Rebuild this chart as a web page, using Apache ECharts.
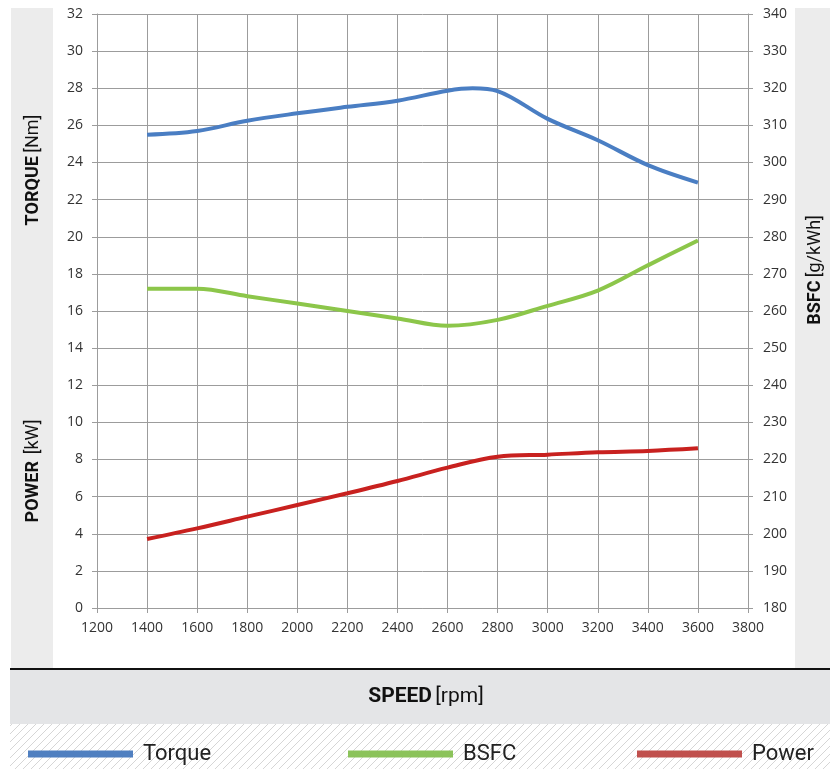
<!DOCTYPE html>
<html>
<head>
<meta charset="utf-8">
<script src="https://cdn.jsdelivr.net/npm/echarts@6/dist/echarts.min.js"></script>
<style>
    html, body { margin: 0; padding: 0; background: #fff; }
    #chart { width: 830px; height: 769px; }
</style>
</head>
<body>
<div id="chart"></div>
<script>
    // data
    const rpm = [1400, 1600, 1800, 2000, 2200, 2400, 2600, 2800, 3000, 3200, 3400, 3600];
    const torqueRpm = [1400, 1600, 1800, 2000, 2200, 2400, 2600, 2700, 2800, 3000, 3200, 3400, 3600];
    const torque = [25.5, 25.7, 26.25, 26.65, 27.0, 27.33, 27.87, 28.0, 27.85, 26.35, 25.2, 23.86, 22.92];
    const bsfc = [266, 266, 264, 262, 260, 258, 256, 257.6, 261.4, 265.5, 272.3, 279];
    const power = [3.72, 4.29, 4.92, 5.55, 6.18, 6.84, 7.56, 8.15, 8.26, 8.39, 8.46, 8.6];

    const blue = '#4a7ec3';
    const green = '#8cc64a';
    const red = '#c8211f';
    const gridColor = '#9c9c9c';

    function pairs(xs, ys) {
        return xs.map((x, i) => [x, ys[i]]);
    }

    // hatched strip under the speed band
    const hatch = document.createElement('canvas');
    hatch.width = 8;
    hatch.height = 8;
    const hc = hatch.getContext('2d');
    hc.fillStyle = '#ffffff';
    hc.fillRect(0, 0, 8, 8);
    hc.strokeStyle = '#d6d6d6';
    hc.lineWidth = 1;
    hc.beginPath();
    hc.moveTo(-1, 9); hc.lineTo(9, -1);
    hc.moveTo(-1, 1); hc.lineTo(1, -1);
    hc.moveTo(7, 9); hc.lineTo(9, 7);
    hc.stroke();

    const chart = echarts.init(document.getElementById('chart'));

    const labelStyle = { color: '#333', fontSize: 14, fontFamily: 'Open Sans', formatter: v => String(v) };
    const nameRich = {
        b: { fontFamily: 'Roboto', fontWeight: 'bold', fontSize: 18, fill: '#111' },
        r: { fontFamily: 'Roboto', fontSize: 18, fill: '#111' }
    };

    const options = {
        backgroundColor: '#ffffff',
        animation: false,
        grid: {
            left: 97,
            right: 82,
            top: 14,
            bottom: 161
        },
        legend: [
            { data: [{ name: 'Torque', itemStyle: { color: '#4f7fc0' } }], left: 28 },
            { data: [{ name: 'BSFC', itemStyle: { color: '#8bc35a' } }], left: 348 },
            { data: [{ name: 'Power', itemStyle: { color: '#c0504d' } }], left: 637 }
        ].map(l => Object.assign(l, {
            top: 743,
            padding: 0,
            icon: 'rect',
            itemWidth: 105,
            itemHeight: 7,
            selectedMode: false,
            textStyle: { fontFamily: 'Roboto', fontSize: 22, color: '#222', padding: [0, 0, 0, 5] }
        })),
        xAxis: {
            type: 'value',
            min: 1200,
            max: 3800,
            interval: 200,
            axisLine: { show: true, lineStyle: { color: gridColor } },
            axisTick: { show: true, length: 5, lineStyle: { color: gridColor } },
            axisLabel: Object.assign({ margin: 13 }, labelStyle),
            splitLine: { show: true, lineStyle: { color: gridColor } }
        },
        yAxis: [
            {
                type: 'value',
                min: 0,
                max: 32,
                interval: 2,
                axisLine: { show: true, lineStyle: { color: gridColor } },
                axisTick: { show: true, length: 5, lineStyle: { color: gridColor } },
                axisLabel: Object.assign({ margin: 14 }, labelStyle),
                splitLine: { show: true, lineStyle: { color: gridColor } }
            },
            {
                type: 'value',
                position: 'right',
                min: 180,
                max: 340,
                interval: 10,
                axisLine: { show: true, lineStyle: { color: gridColor } },
                axisTick: { show: true, length: 5, lineStyle: { color: gridColor } },
                axisLabel: Object.assign({ margin: 15 }, labelStyle),
                splitLine: { show: false }
            }
        ],
        graphic: [
            { type: 'rect', z: -10, shape: { x: 11, y: 8, width: 42, height: 660 }, style: { fill: '#ececec' } },
            { type: 'rect', z: -10, shape: { x: 795, y: 8, width: 35, height: 660 }, style: { fill: '#ececec' } },
            { type: 'rect', z: -10, shape: { x: 10, y: 670, width: 820, height: 54 }, style: { fill: '#e4e5e7' } },
            { type: 'rect', z: -10, shape: { x: 10, y: 724, width: 820, height: 45 }, style: { fill: { image: hatch, repeat: 'repeat' } } },
            { type: 'rect', z: -9, shape: { x: 10, y: 668, width: 820, height: 2 }, style: { fill: '#111' } },
            {
                type: 'text', x: 33, y: 170, rotation: Math.PI / 2,
                style: { text: '{b|TORQUE} {r|[Nm]}', rich: nameRich, align: 'center', verticalAlign: 'middle' }
            },
            {
                type: 'text', x: 33, y: 471, rotation: Math.PI / 2,
                style: { text: '{b|POWER}  {r|[kW]}', rich: nameRich, align: 'center', verticalAlign: 'middle' }
            },
            {
                type: 'text', x: 815, y: 270, rotation: Math.PI / 2,
                style: { text: '{b|BSFC} {r|[g/kWh]}', rich: nameRich, align: 'center', verticalAlign: 'middle' }
            },
            {
                type: 'text', x: 426, y: 697,
                style: {
                    text: '{b|SPEED} {r|[rpm]}',
                    rich: {
                        b: { fontFamily: 'Roboto', fontWeight: 'bold', fontSize: 21, fill: '#111' },
                        r: { fontFamily: 'Roboto', fontSize: 21, fill: '#111' }
                    },
                    align: 'center', verticalAlign: 'middle'
                }
            }
        ],
        series: [
            {
                name: 'Torque',
                type: 'line',
                smooth: 0.35,
                showSymbol: false,
                yAxisIndex: 0,
                lineStyle: { color: blue, width: 4 },
                itemStyle: { color: blue },
                data: pairs(torqueRpm, torque)
            },
            {
                name: 'BSFC',
                type: 'line',
                smooth: 0.35,
                showSymbol: false,
                yAxisIndex: 1,
                lineStyle: { color: green, width: 4 },
                itemStyle: { color: green },
                data: pairs(rpm, bsfc)
            },
            {
                name: 'Power',
                type: 'line',
                smooth: 0.35,
                showSymbol: false,
                yAxisIndex: 0,
                lineStyle: { color: red, width: 4 },
                itemStyle: { color: red },
                data: pairs(rpm, power)
            }
        ]
    };
    chart.setOption(options);
</script>
</body>
</html>
